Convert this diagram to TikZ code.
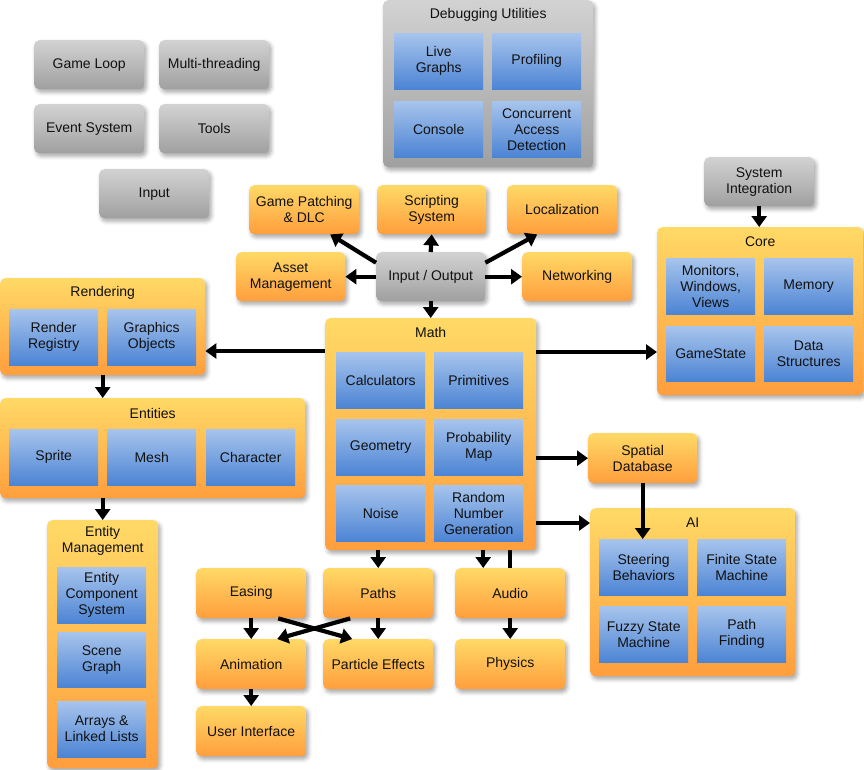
\documentclass[tikz,border=0pt]{standalone}
\usepackage{fontspec}
\setmainfont{Liberation Sans}
\usetikzlibrary{arrows.meta,shadows.blur,calc}
\pgfdeclarelayer{background}
\pgfsetlayers{background,main}
\definecolor{gtop}{HTML}{D2D2D2}
\definecolor{gbot}{HTML}{A0A0A0}
\definecolor{otop}{HTML}{FFD966}
\definecolor{obot}{HTML}{FF9E3D}
\definecolor{btop}{HTML}{A7C4EC}
\definecolor{bbot}{HTML}{4C84D4}
\definecolor{txt}{HTML}{111111}
\newcommand\mybx[7]{\pgfmathsetmacro\bxw{#5-#3}\pgfmathsetmacro\bxh{#6-#4}%
 \node[#1,minimum width=\bxw pt,minimum height=\bxh pt,anchor=north west,inner sep=0pt] (#2) at (#3pt,-#4pt) {#7};}
\tikzset{
 txtbase/.style={align=center,font=\fontsize{14}{16}\selectfont,text=txt},
 shd/.style={blur shadow={shadow xshift=2pt,shadow yshift=-3pt,shadow blur radius=4pt,shadow opacity=35}},
 gbox/.style={txtbase,rounded corners=5pt,top color=gtop,bottom color=gbot,shd},
 obox/.style={txtbase,rounded corners=5pt,top color=otop,bottom color=obot,shd},
 bbox/.style={txtbase,top color=btop,bottom color=bbot},
 ttl/.style={txtbase},
 arr/.style={line width=4.2pt,draw=black,-{Triangle[length=11pt,width=15pt]}}
}
\begin{document}
\begin{tikzpicture}
\useasboundingbox (0,0) rectangle (864pt,-769pt);
% gray boxes
\mybx{gbox}{gameloop}{34}{40}{144}{89}{Game Loop}
\mybx{gbox}{multi}{159}{40}{269}{89}{Multi-threading}
\mybx{gbox}{event}{34}{104}{144}{153}{Event System}
\mybx{gbox}{tools}{159}{104}{269}{153}{Tools}
\mybx{gbox}{input}{99}{169}{209}{218}{Input}
% debugging
\mybx{gbox}{debug}{383}{0}{593}{167}{}
\node[ttl] (debugT) at ([yshift=-15pt]debug.north) {Debugging Utilities};
\mybx{bbox}{live}{394}{33}{483}{89}{Live\\Graphs}
\mybx{bbox}{prof}{492}{33}{581}{89}{Profiling}
\mybx{bbox}{console}{394}{101}{483}{157}{Console}
\mybx{bbox}{concur}{492}{101}{581}{157}{Concurrent\\Access\\Detection}
% IO cluster
\mybx{obox}{gp}{249}{185}{359}{234}{Game Patching\\\& DLC}
\mybx{obox}{script}{377}{185}{486}{234}{Scripting\\System}
\mybx{obox}{loc}{507}{185}{617}{234}{Localization}
\mybx{obox}{asset}{236}{252}{345}{301}{Asset\\Management}
\mybx{gbox}{io}{376}{252}{485}{301}{Input / Output}
\mybx{obox}{net}{522}{252}{632}{301}{Networking}
% core
\mybx{gbox}{sysint}{704}{157}{814}{206}{System\\Integration}
\mybx{obox}{core}{657}{227}{863}{395}{}
\node[ttl] (coreT) at ([yshift=-15pt]core.north) {Core};
\mybx{bbox}{mon}{666}{258}{755}{314}{Monitors,\\Windows,\\Views}
\mybx{bbox}{mem}{764}{258}{853}{314}{Memory}
\mybx{bbox}{gs}{666}{326}{755}{381}{GameState}
\mybx{bbox}{ds}{764}{326}{853}{381}{Data\\Structures}
% rendering
\mybx{obox}{rend}{0}{278}{205}{375}{}
\node[ttl] (rendT) at ([yshift=-15pt]rend.north) {Rendering};
\mybx{bbox}{rr}{9}{309}{98}{365}{Render\\Registry}
\mybx{bbox}{gobj}{107}{309}{196}{365}{Graphics\\Objects}
% entities
\mybx{obox}{ent}{0}{398}{305}{498}{}
\node[ttl] (entT) at ([yshift=-15pt]ent.north) {Entities};
\mybx{bbox}{sprite}{9}{429}{98}{485}{Sprite}
\mybx{bbox}{mesh}{107}{429}{196}{485}{Mesh}
\mybx{bbox}{char}{206}{429}{295}{485}{Character}
% entity management
\mybx{obox}{em}{47}{520}{158}{768}{}
\node[ttl] (emT) at ([yshift=-21pt]em.north) {Entity\\Management};
\mybx{bbox}{ecs}{57}{567}{146}{623}{Entity\\Component\\System}
\mybx{bbox}{sg}{57}{632}{146}{687}{Scene\\Graph}
\mybx{bbox}{arrl}{57}{701}{146}{757}{Arrays \&\\Linked Lists}
% math
\mybx{obox}{math}{325}{318}{536}{550}{}
\node[ttl] (mathT) at ([yshift=-14pt]math.north) {Math};
\mybx{bbox}{calc}{336}{352}{425}{408}{Calculators}
\mybx{bbox}{prim}{434}{352}{523}{408}{Primitives}
\mybx{bbox}{geom}{336}{419}{425}{475}{Geometry}
\mybx{bbox}{prob}{434}{419}{523}{475}{Probability\\Map}
\mybx{bbox}{noise}{336}{485}{425}{541}{Noise}
\mybx{bbox}{rng}{434}{485}{523}{541}{Random\\Number\\Generation}
% AI
\mybx{obox}{spatial}{588}{433}{697}{483}{Spatial\\Database}
\mybx{obox}{ai}{590}{508}{795}{676}{}
\node[ttl] (aiT) at ([yshift=-15pt]ai.north) {AI};
\mybx{bbox}{steer}{599}{539}{688}{595}{Steering\\Behaviors}
\mybx{bbox}{fsm}{697}{539}{786}{595}{Finite State\\Machine}
\mybx{bbox}{fuzzy}{599}{606}{688}{662}{Fuzzy State\\Machine}
\mybx{bbox}{pathf}{697}{606}{786}{662}{Path\\Finding}
% bottom
\mybx{obox}{easing}{196}{568}{306}{618}{Easing}
\mybx{obox}{paths}{323}{568}{433}{618}{Paths}
\mybx{obox}{audio}{455}{568}{565}{618}{Audio}
\mybx{obox}{anim}{196}{639}{306}{689}{Animation}
\mybx{obox}{particle}{323}{639}{433}{689}{Particle Effects}
\mybx{obox}{physics}{455}{639}{565}{689}{Physics}
\mybx{obox}{ui}{196}{706}{306}{756}{User Interface}
% connectors
\begin{pgfonlayer}{background}
\draw[arr] (math.south -| physics) -- (physics.north);
\end{pgfonlayer}
\draw[arr] (io.north) -- (script.south);
\draw[arr] ([yshift=14pt]io.west) -- ([xshift=26pt]gp.south);
\draw[arr] ([yshift=14pt]io.east) -- ([xshift=-25pt]loc.south);
\draw[arr] (io.west) -- (asset.east);
\draw[arr] (io.east) -- (net.west);
\draw[arr] (io.south) -- (math.north);
\draw[arr] (sysint.south) -- (sysint.south |- core.north);
\coordinate (mr) at ([yshift=-33pt]math.north west);
\draw[arr] (mr) -- (mr -| rend.east);
\coordinate (mg) at ([yshift=-34pt]math.north east);
\draw[arr] (mg) -- (mg -| core.west);
\draw[arr] (math.east |- spatial) -- (spatial.west);
\draw[arr] (math.east |- aiT) -- (ai.west |- aiT);
\draw[arr] (spatial.south) -- (spatial.south |- steer.north);
\draw[arr] (rend.south) -- (rend.south |- ent.north);
\draw[arr] (ent.south -| em) -- (em.north);
\draw[arr] (math.south -| paths) -- (paths.north);
\coordinate (au) at ([xshift=-27pt]audio.north);
\draw[arr] (au |- math.south) -- (au);
\draw[arr] (easing) -- (anim);
\draw[arr] (paths) -- (particle);
\draw[arr] ([xshift=27pt]easing.south) -- ([xshift=-26pt]particle.north);
\draw[arr] ([xshift=-28pt]paths.south) -- ([xshift=26pt]anim.north);
\draw[arr] (anim) -- (ui);
\end{tikzpicture}
\end{document}
